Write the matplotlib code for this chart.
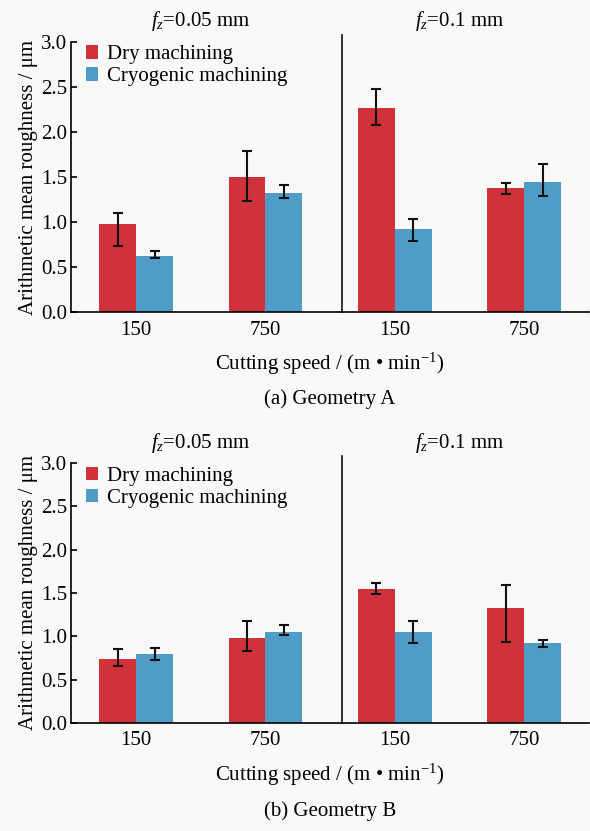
import numpy as np
import matplotlib.pyplot as plt
from matplotlib.transforms import blended_transform_factory

plt.rcParams['font.family'] = ['Liberation Serif', 'DejaVu Serif']
plt.rcParams['mathtext.fontset'] = 'custom'
plt.rcParams['mathtext.rm'] = 'Liberation Serif'
plt.rcParams['mathtext.it'] = 'Liberation Serif:italic'

# data
speeds = ['150', '750', '150', '750']
feeds = ['$f_z$=0.05 mm', '$f_z$=0.1 mm']
series = ['Dry machining', 'Cryogenic machining']

# Geometry A
dry_a = [0.98, 1.50, 2.26, 1.38]
dry_a_lo = [0.74, 1.23, 2.08, 1.31]
dry_a_hi = [1.10, 1.79, 2.47, 1.43]
cryo_a = [0.63, 1.32, 0.92, 1.45]
cryo_a_lo = [0.60, 1.27, 0.79, 1.29]
cryo_a_hi = [0.68, 1.41, 1.04, 1.64]

# Geometry B
dry_b = [0.74, 0.98, 1.55, 1.33]
dry_b_lo = [0.66, 0.83, 1.49, 0.93]
dry_b_hi = [0.85, 1.18, 1.61, 1.59]
cryo_b = [0.80, 1.05, 1.05, 0.92]
cryo_b_lo = [0.73, 1.01, 0.92, 0.88]
cryo_b_hi = [0.86, 1.13, 1.18, 0.96]

red = '#d03239'
blue = '#4f9cc6'
bg = '#f9f9f9'
fs = 15

fig = plt.figure(figsize=(5.9, 8.31), dpi=100, facecolor=bg)


def panel(rect, dry, dlo, dhi, cryo, clo, chi, caption, cap_y):
    ax = fig.add_axes(rect, facecolor=bg)
    x = np.arange(len(speeds))
    w = 0.285
    d = np.array(dry)
    c = np.array(cryo)
    ax.bar(x - w / 2, d, w, color=red, label=series[0], zorder=2)
    ax.bar(x + w / 2, c, w, color=blue, label=series[1], zorder=2)
    ax.errorbar(x - w / 2, d, yerr=[d - np.array(dlo), np.array(dhi) - d],
                fmt='none', ecolor='#111111', elinewidth=1.5, capsize=3.5, capthick=1.5, zorder=3)
    ax.errorbar(x + w / 2, c, yerr=[c - np.array(clo), np.array(chi) - c],
                fmt='none', ecolor='#111111', elinewidth=1.5, capsize=3.5, capthick=1.5, zorder=3)
    ax.set_xlim(-0.5, 3.5)
    ax.set_ylim(0, 3.0)
    ax.set_yticks(np.arange(0, 3.01, 0.5))
    ax.set_yticklabels([f'{v:.1f}' for v in np.arange(0, 3.01, 0.5)], fontsize=fs)
    ax.set_xticks(x)
    ax.set_xticklabels(speeds, fontsize=fs)
    ax.tick_params(axis='y', direction='in', length=4, width=1.2, pad=3)
    ax.tick_params(axis='x', length=0, pad=6)
    for s in ['top', 'right']:
        ax.spines[s].set_visible(False)
    ax.spines['left'].set_linewidth(1.2)
    ax.spines['bottom'].set_linewidth(1.2)
    ax.axvline(1.59, ymin=0, ymax=1.025, color='#111111', lw=1.2, clip_on=False)
    trans = blended_transform_factory(ax.transData, ax.transAxes)
    ax.text(0.5, 1.075, feeds[0], transform=trans, ha='center', va='center', fontsize=fs)
    ax.text(2.5, 1.075, feeds[1], transform=trans, ha='center', va='center', fontsize=fs)
    ax.set_ylabel('Arithmetic mean roughness / μm', fontsize=fs, labelpad=2)
    ax.set_xlabel('Cutting speed / (m • min$^{-1}$)', fontsize=fs, labelpad=8)
    ax.legend(loc='upper left', bbox_to_anchor=(0.0, 1.04), frameon=False, fontsize=fs,
              handlelength=0.6, handleheight=0.6, handletextpad=0.4, labelspacing=0.15,
              borderaxespad=0.3)
    ax.text(0.5, cap_y, caption, transform=ax.transAxes, ha='center', va='center', fontsize=fs)
    return ax


panel([0.121, 0.624, 0.877, 0.326], dry_a, dry_a_lo, dry_a_hi, cryo_a, cryo_a_lo, cryo_a_hi,
      '(a) Geometry A', -0.32)
panel([0.121, 0.130, 0.877, 0.313], dry_b, dry_b_lo, dry_b_hi, cryo_b, cryo_b_lo, cryo_b_hi,
      '(b) Geometry B', -0.34)

fig.savefig('out.png', dpi=100, facecolor=bg)
